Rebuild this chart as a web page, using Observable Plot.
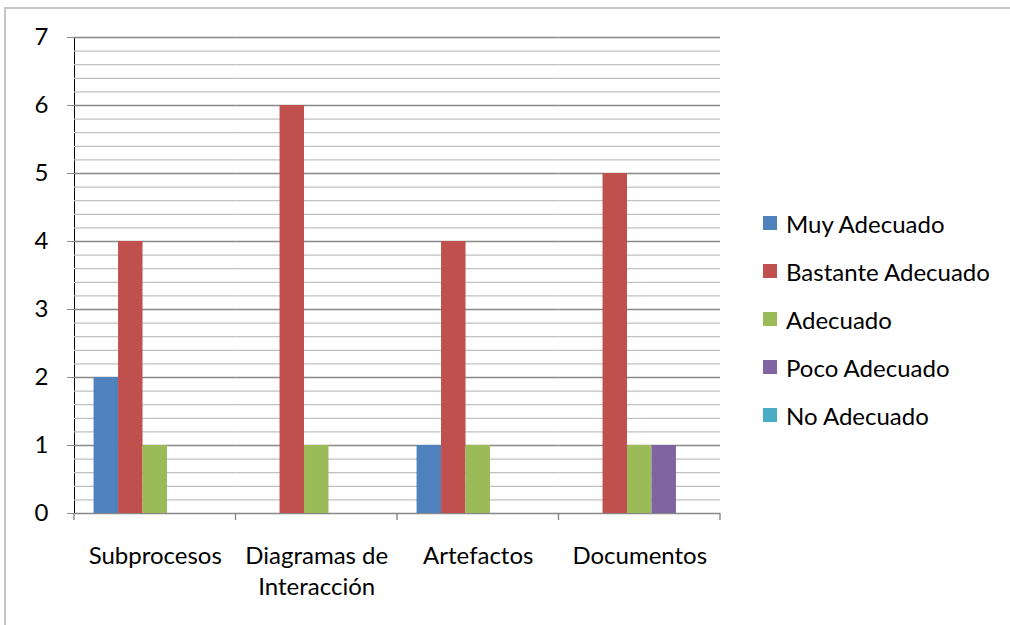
<!DOCTYPE html>
<html>
<head>
<meta charset="utf-8">
<script src="https://cdn.jsdelivr.net/npm/d3@7"></script>
<script src="https://cdn.jsdelivr.net/npm/@observablehq/plot@0.6"></script>
<style>
  html, body { margin: 0; padding: 0; background: #fff; }
  #wrap { position: relative; width: 1010px; height: 625px; overflow: hidden; background: #fff; }
  #frame { position: absolute; left: 4px; top: 7px; width: 1100px; height: 700px;
           border-top: 2px solid #c6c6c6; border-left: 2px solid #c6c6c6; }
  #chart { position: absolute; left: 0; top: 0; }
  #legend { position: absolute; left: 763px; top: 199px; font-family: Lato, sans-serif;
            font-size: 24px; color: #000; }
  .item { display: flex; align-items: center; height: 48px; white-space: nowrap; }
  .sw { width: 14px; height: 14px; margin-right: 9px; flex: none; }
</style>
</head>
<body>
<div id="wrap">
  <div id="frame"></div>
  <div id="chart"></div>
  <div id="legend"></div>
</div>
<script>
// Categories evaluated and their axis labels (the second one wraps onto two lines)
const categories = ["Subprocesos", "Diagramas de Interacción", "Artefactos", "Documentos"];
const categoryLabels = ["Subprocesos", "Diagramas de\nInteracción", "Artefactos", "Documentos"];

// Rating series and their colours
const series = ["Muy Adecuado", "Bastante Adecuado", "Adecuado", "Poco Adecuado", "No Adecuado"];
const seriesColors = ["#4F81BD", "#C0504D", "#9BBB59", "#8064A2", "#4BACC6"];

// Counts per category, one array per series
const muyAdecuado      = [2, 0, 1, 0];
const bastanteAdecuado = [4, 6, 4, 5];
const adecuado         = [1, 1, 1, 1];
const pocoAdecuado     = [0, 0, 0, 1];
const noAdecuado       = [0, 0, 0, 0];

// Y axis ticks
const yTicks = [0, 1, 2, 3, 4, 5, 6, 7];
const yMinorTicks = d3.range(0, 35).map(i => i / 5).filter(v => !Number.isInteger(v));

const seriesValues = [muyAdecuado, bastanteAdecuado, adecuado, pocoAdecuado, noAdecuado];
const rows = [];
categories.forEach((c, ci) => {
  series.forEach((s, si) => rows.push({category: c, series: s, value: seriesValues[si][ci]}));
});

const font = "Lato, sans-serif";

const plot = Plot.plot({
  width: 1010,
  height: 625,
  marginLeft: 74,
  marginRight: 290,
  marginTop: 37,
  marginBottom: 112,
  style: {fontFamily: font, fontSize: "24px", color: "#000", background: "transparent", overflow: "visible"},
  fx: {domain: categories, padding: 0, axis: null, label: null, round: false},
  x: {domain: series, paddingInner: 0, paddingOuter: 0.8, axis: null, round: false},
  y: {domain: [0, 7], ticks: yTicks, tickSize: 7, tickPadding: 19, label: null, line: true, tickFormat: d3.format("d")},
  color: {domain: series, range: seriesColors},
  marks: [
    Plot.ruleY(yMinorTicks, {stroke: "#c0c0c0", strokeWidth: 1.2}),
    Plot.ruleY(yTicks, {stroke: "#888888", strokeWidth: 1.4}),
    Plot.barY(rows, {fx: "category", x: "series", y: "value", fill: "series"}),
    Plot.text(categories, {
      fx: d => d,
      text: (d, i) => categoryLabels[i],
      frameAnchor: "bottom",
      lineAnchor: "top",
      lineHeight: 1.3,
      dy: 28,
      fontSize: 24,
      fill: "#000"
    })
  ]
});

document.getElementById("chart").appendChild(plot);

// Category tick marks below the baseline, at the band boundaries of the fx scale
const svg = d3.select(plot.tagName.toLowerCase() === "svg" ? plot : plot.querySelector("svg"));
const fxs = plot.scale("fx");
const ys = plot.scale("y");
const y0 = ys.apply ? ys.apply(0) : ys.range[0];
const bounds = fxs.domain.map((d, i) => fxs.range[0] + i * fxs.step);
bounds.push(fxs.range[1]);
svg.append("g")
  .attr("stroke", "#888888")
  .attr("stroke-width", 1.4)
  .selectAll("line")
  .data(bounds)
  .join("line")
  .attr("x1", d => d).attr("x2", d => d)
  .attr("y1", y0).attr("y2", y0 + 7);
// Y axis ticks and line in the same grey
svg.selectAll("[aria-label='y-axis'] line, [aria-label='y-axis tick'] path, [aria-label='y-axis'] path")
  .attr("stroke", "#888888");

// Legend
const legend = d3.select("#legend");
series.forEach((s, i) => {
  const item = legend.append("div").attr("class", "item");
  item.append("div").attr("class", "sw").style("background", seriesColors[i]);
  item.append("span").text(s);
});
</script>
</body>
</html>
